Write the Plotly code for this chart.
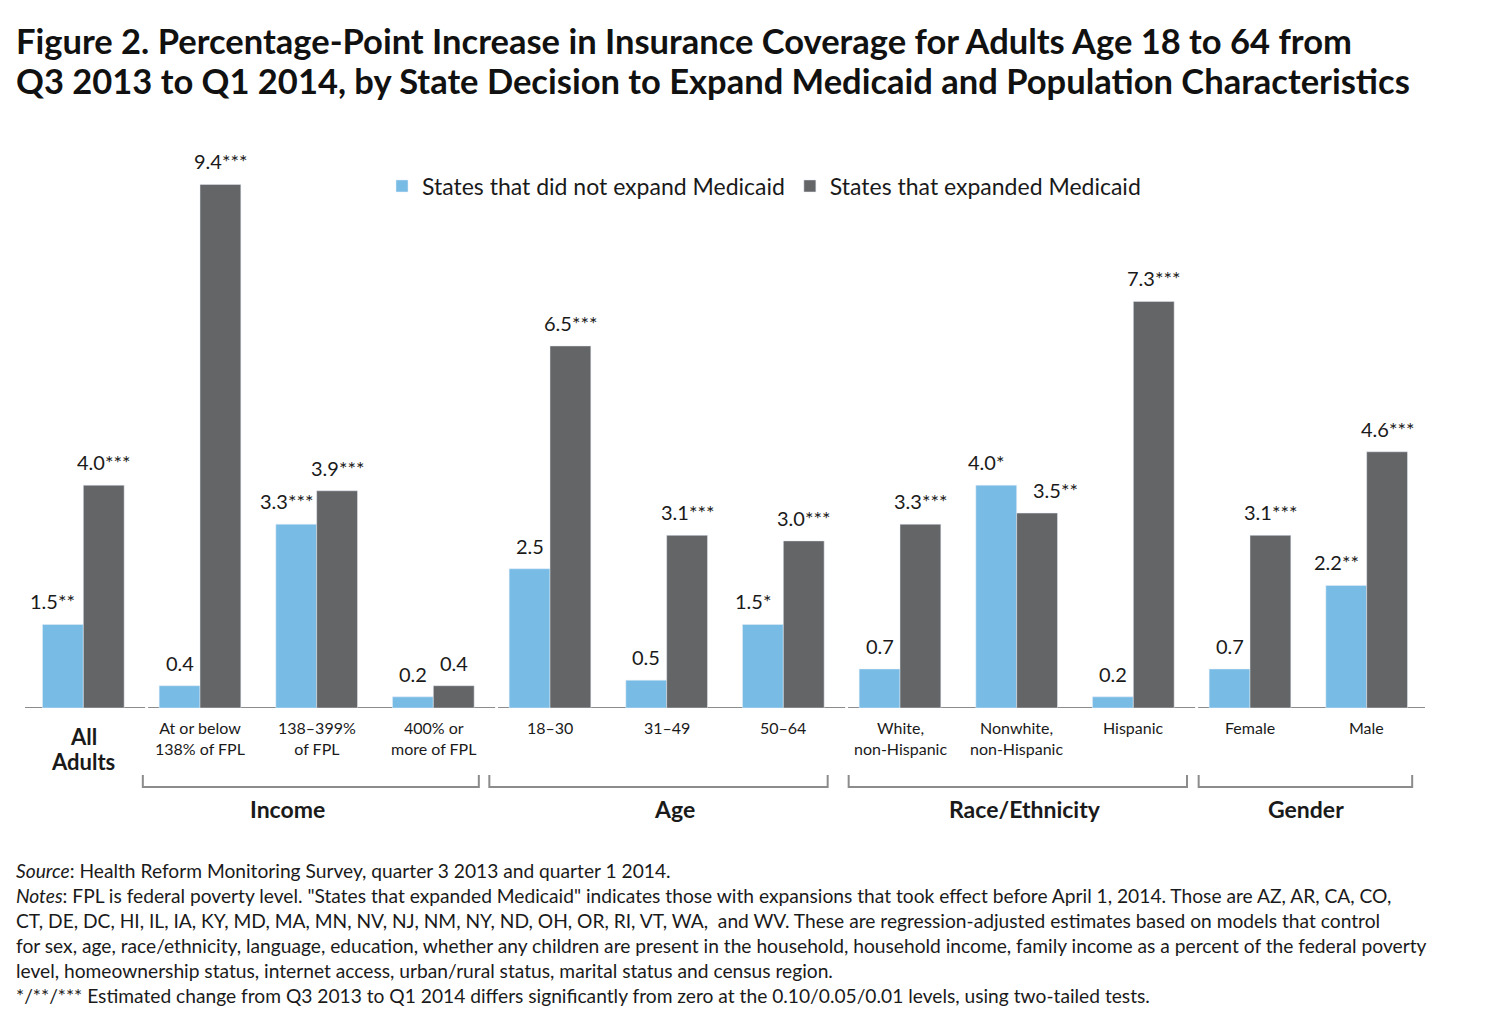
import plotly.graph_objects as go

# chart data
categories = ["All Adults", "At or below<br>138% of FPL", "138–399%<br>of FPL", "400% or<br>more of FPL",
              "18–30", "31–49", "50–64",
              "White,<br>non-Hispanic", "Nonwhite,<br>non-Hispanic", "Hispanic",
              "Female", "Male"]
not_expand = [1.5, 0.4, 3.3, 0.2, 2.5, 0.5, 1.5, 0.7, 4.0, 0.2, 0.7, 2.2]
not_expand_sig = ["**", "", "***", "", "", "", "*", "", "*", "", "", "**"]
expanded = [4.0, 9.4, 3.9, 0.4, 6.5, 3.1, 3.0, 3.3, 3.5, 7.3, 3.1, 4.6]
expanded_sig = ["***", "***", "***", "", "***", "***", "***", "***", "**", "***", "***", "***"]

groups = ["Income", "Age", "Race/Ethnicity", "Gender"]
group_spans = [(0.51, 3.39), (3.48, 6.38), (6.56, 9.46), (9.56, 11.39)]
group_label_x = [1.75, 5.07, 8.07, 10.48]
segments = [(-0.5, 0.53), (0.555, 3.53), (3.555, 6.53), (6.555, 9.53), (9.555, 11.5)]

title_lines = [
    "Figure 2. Percentage-Point Increase in Insurance Coverage for Adults Age 18 to 64 from",
    "Q3 2013 to Q1 2014, by State Decision to Expand Medicaid and Population Characteristics",
]
note_lines = [
    "<i>Source</i>: Health Reform Monitoring Survey, quarter 3 2013 and quarter 1 2014.",
    "<i>Notes</i>: FPL is federal poverty level. \"States that expanded Medicaid\" indicates those with expansions that took effect before April 1, 2014. Those are AZ, AR, CA, CO,",
    "CT, DE, DC, HI, IL, IA, KY, MD, MA, MN, NV, NJ, NM, NY, ND, OH, OR, RI, VT, WA,  and WV. These are regression-adjusted estimates based on models that control",
    "for sex, age, race/ethnicity, language, education, whether any children are present in the household, household income, family income as a percent of the federal poverty",
    "level, homeownership status, internet access, urban/rural status, marital status and census region.",
    "*/**/*** Estimated change from Q3 2013 to Q1 2014 differs significantly from zero at the 0.10/0.05/0.01 levels, using two-tailed tests.",
]

BLUE = "#78bce6"
GRAY = "#646567"
LINE = "#8c8c8c"
FONT = "Lato"
PAGE = 8  # body margin of the html page
W, H = 1479, 1026
ML, MR, MT, MB = 17, 62, 143, 326


def py(p):
    # screen pixel row -> paper y
    return (PAGE + H - MB - p) / (H - MT - MB)


def px(p):
    return (p - PAGE - ML) / (W - ML - MR)


x = list(range(len(categories)))
fig = go.Figure()
fig.add_trace(go.Bar(x=x, y=not_expand, name="States that did not expand Medicaid",
                     marker_color=BLUE))
fig.add_trace(go.Bar(x=x, y=expanded, name="States that expanded Medicaid",
                     marker_color=GRAY))

ann = []
half = (1 - 0.3) / 4
for i in x:
    close = abs(expanded[i] - not_expand[i]) <= 0.6
    # nudge labels apart a little, as in the original
    b_shift = -10 if not_expand_sig[i] else 0
    g_shift = 18 if (close and expanded_sig[i]) else 0
    for val, sig, off, sh in ((not_expand[i], not_expand_sig[i], -half, b_shift),
                              (expanded[i], expanded_sig[i], half, g_shift)):
        ann.append(dict(x=i + off, y=val, xref="x", yref="y", text=f"{val:.1f}{sig}",
                        showarrow=False, yanchor="middle", yshift=23, xshift=sh,
                        font=dict(size=20, color="#1a1a1a", family=FONT)))
    if i == 0:
        for k, w in enumerate(categories[0].split(" ")):
            ann.append(dict(x=i, y=py(736 + 25 * k), xref="x", yref="paper", yanchor="middle",
                            text=f"<b>{w}</b>", showarrow=False,
                            font=dict(size=22, color="#1a1a1a", family=FONT)))
    else:
        ann.append(dict(x=i, y=py(716), xref="x", yref="paper", yanchor="top",
                        text=categories[i], showarrow=False,
                        font=dict(size=16, color="#1a1a1a", family=FONT)))

for g, gx in zip(groups, group_label_x):
    ann.append(dict(x=gx, y=py(809), xref="x", yref="paper", yanchor="middle",
                    text=f"<b>{g}</b>", showarrow=False,
                    font=dict(size=23, color="#1a1a1a", family=FONT)))

for k, t in enumerate(title_lines):
    ann.append(dict(x=px(14), y=py(41 + 39 * k), xref="paper", yref="paper",
                    xanchor="left", yanchor="middle", text=f"<b>{t}</b>", showarrow=False,
                    font=dict(size=34.5, color="#111111", family=FONT)))

for k, t in enumerate(note_lines):
    ann.append(dict(x=px(14), y=py(870 + 25 * k), xref="paper", yref="paper",
                    xanchor="left", yanchor="middle", text=t, showarrow=False,
                    font=dict(size=19.2, color="#1a1a1a", family=FONT)))

shapes = []
for a, b in segments:
    shapes.append(dict(type="line", xref="x", yref="y", x0=a, x1=b, y0=0, y1=0,
                       line=dict(color=LINE, width=2), layer="below"))
for a, b in group_spans:
    shapes.append(dict(type="path", xref="x", yref="paper",
                       path=f"M {a},{py(775)} L {a},{py(787)} L {b},{py(787)} L {b},{py(775)}",
                       line=dict(color=LINE, width=2)))

fig.update_layout(
    width=W, height=H,
    margin=dict(l=ML, r=MR, t=MT, b=MB),
    paper_bgcolor="white", plot_bgcolor="white",
    barmode="group", bargap=0.3, bargroupgap=0,
    font=dict(family=FONT, color="#1a1a1a"),
    xaxis=dict(range=[-0.5, 11.5], showticklabels=False, showgrid=False,
               zeroline=False, showline=False, ticks=""),
    yaxis=dict(range=[0, 10], visible=False),
    legend=dict(orientation="h", x=px(382), y=py(186), xanchor="left", yanchor="middle",
                font=dict(size=23, family=FONT), itemwidth=30, traceorder="normal"),
    annotations=ann, shapes=shapes,
)

fig.write_html("out.html")
